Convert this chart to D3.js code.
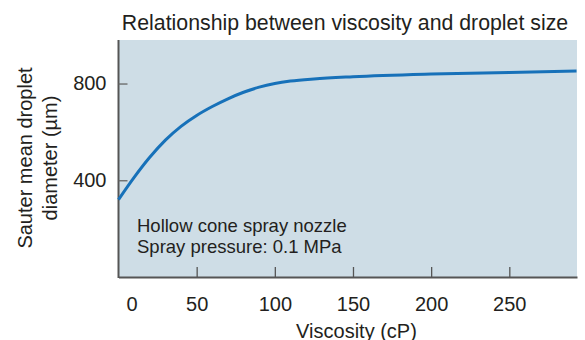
<!DOCTYPE html>
<html>
<head>
<meta charset="utf-8">
<script src="https://cdn.jsdelivr.net/npm/d3@7"></script>
<style>
  html, body { margin: 0; padding: 0; background: #fff; }
  svg { display: block; font-family: "Liberation Sans", Arial, sans-serif; }
</style>
</head>
<body>
<svg id="chart" width="585" height="340"></svg>
<script>
// Viscosity (cP) vs. Sauter mean droplet diameter (µm)
const viscosity = [0, 10, 20, 30, 40, 50, 60, 70, 80, 90, 100, 110, 125, 150, 200, 250, 293];
const diameter  = [320, 412, 495, 566, 623, 668, 705, 737, 764, 785, 800, 810, 819, 828, 839, 846, 852];

const xTicks = [0, 50, 100, 150, 200, 250];
const yTicks = [400, 800];

const titleText = "Relationship between viscosity and droplet size";
const xLabel = "Viscosity (cP)";
const yLabelLines = ["Sauter mean droplet", "diameter (µm)"];
const noteLines = ["Hollow cone spray nozzle", "Spray pressure: 0.1 MPa"];

const svg = d3.select("#chart");
const plot = { left: 118.5, top: 40, right: 577, bottom: 277 };

const x = d3.scaleLinear().domain([0, 293.3]).range([plot.left, plot.right]);
const y = d3.scaleLinear().domain([0, 980]).range([plot.bottom, plot.top]);

const textColor = "#231f20";

// plot background
svg.append("rect")
  .attr("x", plot.left).attr("y", plot.top)
  .attr("width", plot.right - plot.left).attr("height", plot.bottom - plot.top)
  .attr("fill", "#cedde6");

// x axis with inward ticks
const xAxis = svg.append("g")
  .attr("transform", `translate(0,${plot.bottom})`)
  .call(d3.axisBottom(x).tickValues(xTicks).tickSizeInner(-10).tickSizeOuter(0).tickPadding(20));
xAxis.select(".domain").attr("stroke", "#555").attr("stroke-width", 2);
xAxis.selectAll(".tick line").attr("stroke", "#555").attr("stroke-width", 1.3)
  .filter(d => d === 0).remove();
xAxis.selectAll(".tick text")
  .attr("font-size", 20).attr("fill", textColor).attr("font-family", "Liberation Sans, Arial, sans-serif")
  .attr("dy", "0.71em")
  .attr("dx", d => d === 0 ? 13 : 0);

// y axis with inward ticks
const yAxis = svg.append("g")
  .attr("transform", `translate(${plot.left},0)`)
  .call(d3.axisLeft(y).tickValues(yTicks).tickSizeInner(-9).tickSizeOuter(0).tickPadding(12));
yAxis.select(".domain").attr("stroke", "#555").attr("stroke-width", 2)
  .attr("d", `M0,${plot.top}V${plot.bottom + 1}`);
yAxis.selectAll(".tick line").attr("stroke", "#666").attr("stroke-width", 1.3);
yAxis.selectAll(".tick text")
  .attr("font-size", 20).attr("fill", textColor).attr("font-family", "Liberation Sans, Arial, sans-serif");

// curve
const line = d3.line()
  .x((d, i) => x(viscosity[i]))
  .y(d => y(d))
  .curve(d3.curveMonotoneX);
svg.append("path")
  .datum(diameter)
  .attr("d", line)
  .attr("fill", "none")
  .attr("stroke", "#1771b9")
  .attr("stroke-width", 3);

// title
svg.append("text")
  .attr("x", 345).attr("y", 29.5)
  .attr("text-anchor", "middle")
  .attr("font-size", 21.3).attr("fill", textColor)
  .text(titleText);

// x label
svg.append("text")
  .attr("x", 356.5).attr("y", 337.5)
  .attr("text-anchor", "middle")
  .attr("font-size", 20).attr("fill", textColor)
  .text(xLabel);

// y label (two rotated lines)
const yl = svg.append("text")
  .attr("transform", "translate(0,158) rotate(-90)")
  .attr("text-anchor", "middle")
  .attr("font-size", 20).attr("fill", textColor);
yl.selectAll("tspan").data(yLabelLines).join("tspan")
  .attr("x", 0)
  .attr("y", (d, i) => 32 + i * 25)
  .text(d => d);

// annotation
const note = svg.append("text")
  .attr("font-size", 18.5).attr("fill", textColor);
note.selectAll("tspan").data(noteLines).join("tspan")
  .attr("x", 137)
  .attr("y", (d, i) => 232 + i * 20.5)
  .text(d => d);
</script>
</body>
</html>
